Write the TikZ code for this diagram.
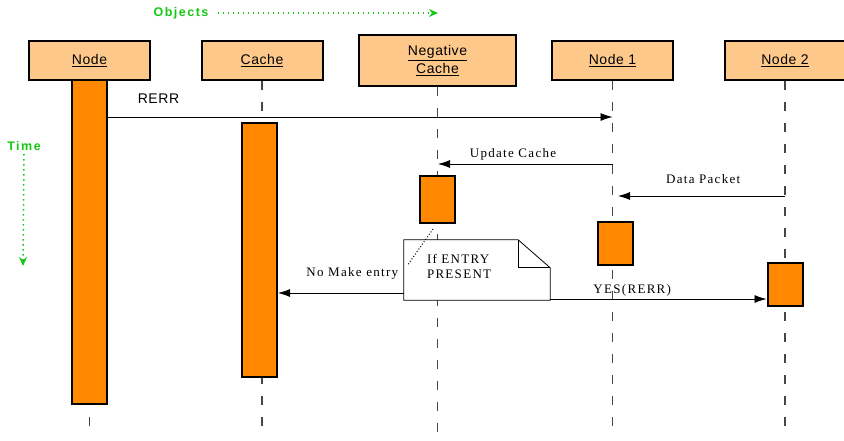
\documentclass[tikz,border=0pt]{standalone}
\usepackage{fontspec}
\setmainfont{Liberation Serif}
\newfontfamily\objfont[LetterSpace=4]{Liberation Sans}
\newfontfamily\msgfont[LetterSpace=10]{Liberation Serif}
\newfontfamily\axisfont[LetterSpace=12]{Liberation Sans}
\usetikzlibrary{arrows.meta}

\definecolor{objfill}{RGB}{253,200,138}
\definecolor{actfill}{RGB}{255,136,0}
\definecolor{axisgreen}{RGB}{20,200,20}
\definecolor{lifegray}{RGB}{70,70,70}

\begin{document}
\begin{tikzpicture}[x=1pt,y=-1pt,>={Latex[length=12pt,width=8pt]},
  obj/.style={draw,line width=2pt,fill=objfill,minimum width=121pt,minimum height=39pt,
    align=center,font=\objfont\fontsize{14}{16}\selectfont},
  act/.style={draw,line width=2pt,fill=actfill,minimum width=35pt,inner sep=0pt},
  life/.style={draw=lifegray,line width=1.5pt,dash pattern=on 9pt off 12pt},
  msg/.style={->,line width=0.8pt},
  lbl/.style={font=\msgfont\fontsize{13}{15}\selectfont},
  axis/.style={axisgreen,line width=1.5pt,dash pattern=on 1.5pt off 3.5pt,
    -{Stealth[length=9pt,width=8pt]}},
  axislbl/.style={axisgreen,font=\axisfont\bfseries\fontsize{12.5}{14}\selectfont}]
\useasboundingbox (0,0) rectangle (844,440);

% axes
\node[axislbl] (ObjLbl) at (181,13) {Objects};
\coordinate (ObjEnd) at (438,13);
\draw[axis] ([xshift=6pt]ObjLbl.east) -- (ObjEnd);
\node[axislbl] (TimeLbl) at (24,146) {Time};
\coordinate (TimeEnd) at (23,266);
\draw[axis] (TimeLbl.south) -- (TimeEnd);

% objects
\node[obj] (Node) at (89.5,60.5) {\underline{Node}};
\node[obj] (Cache) at (262,60.5) {\underline{Cache}};
\node[obj,minimum width=157pt,minimum height=51pt] (NegCache) at (437.5,60.5)
  {\underline{Negative}\\[1.5pt]\underline{Cache}};
\node[obj] (Node1) at (612.5,60.5) {\underline{Node 1}};
\node[obj] (Node2) at (785,60.5) {\underline{Node 2}};

% lifelines
\coordinate (End) at (0,432);
\foreach \o in {Node,Cache,NegCache,Node1,Node2}
  \draw[life] (\o.south) -- (\o.south |- End);

% activations
\node[act,minimum height=324pt] (NodeAct) at (89.5,242) {};
\node[act,minimum height=254pt] (CacheAct) at (259.5,250) {};
\node[act,minimum height=47pt] (NegAct) at (437,199.5) {};
\node[act,minimum height=43pt] (Node1Act) at (615,243.5) {};
\node[act,minimum height=43pt] (Node2Act) at (785,284.5) {};

% note with folded corner
\node[minimum width=146pt,minimum height=60pt,inner sep=0pt] (Note) at (477,270) {};
\draw[line width=0.8pt,fill=white] (Note.north west) -- ([shift={(-32,0)}]Note.north east)
  -- ([shift={(0,28)}]Note.north east) -- (Note.south east) -- (Note.south west) -- cycle;
\draw[line width=0.8pt] ([shift={(-32,0)}]Note.north east) -- ([shift={(-32,28)}]Note.north east)
  -- ([shift={(0,28)}]Note.north east);
\node[lbl,anchor=north west,align=left,inner sep=0pt] (NoteText) at ([shift={(23,14)}]Note.north west)
  {If ENTRY\\PRESENT};
\draw[dotted,line width=1pt] ([shift={(-4,5)}]NegAct.south) -- ([shift={(4,25)}]Note.north west);

% messages
\coordinate (RerrEnd) at (612.5,117);
\coordinate (UpdStart) at (612.5,164);
\coordinate (UpdEnd) at (438,164);
\coordinate (DataStart) at (785,196);
\coordinate (DataEnd) at (618,196);
\coordinate (NoStart) at (404,293);
\coordinate (YesStart) at (550,299);

\draw[msg] (NodeAct.east |- RerrEnd) -- (RerrEnd)
  node[pos=0.1,above=10pt,font=\objfont\fontsize{14}{15}\selectfont] {RERR};
\draw[msg] (UpdStart) -- (UpdEnd) node[lbl,pos=0.57,above] {Update Cache};
\draw[msg] (DataStart) -- (DataEnd) node[lbl,pos=0.49,above=9pt] {Data Packet};
\draw[msg] (NoStart) -- (CacheAct.east |- NoStart) node[lbl,pos=0.41,above=10pt] {No Make entry};
\draw[msg] (YesStart) -- (Node2Act.west |- YesStart) node[lbl,pos=0.38,above=-1pt] {YES(RERR)};
\end{tikzpicture}
\end{document}
